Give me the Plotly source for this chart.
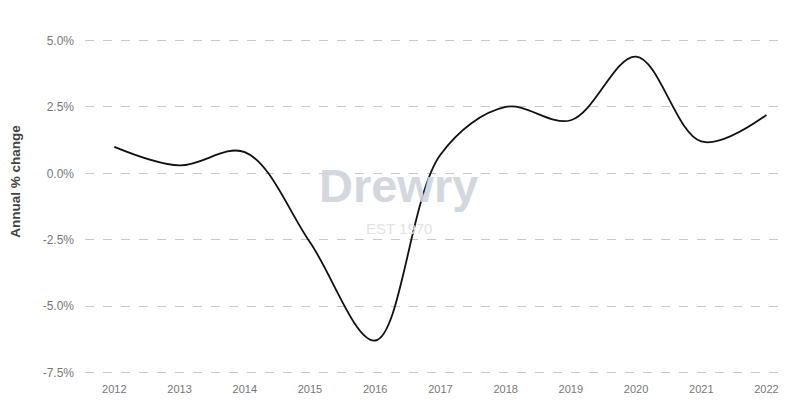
import plotly.graph_objects as go

years = [2012, 2013, 2014, 2015, 2016, 2017, 2018, 2019, 2020, 2021, 2022]
annual_change = [1.0, 0.3, 0.8, -2.6, -6.3, 0.7, 2.5, 2.0, 4.4, 1.2, 2.2]

y_tick_vals = [-7.5, -5.0, -2.5, 0.0, 2.5, 5.0]
y_tick_text = ["-7.5%", "-5.0%", "-2.5%", "0.0%", "2.5%", "5.0%"]

fig = go.Figure()
fig.add_trace(go.Scatter(
    x=years, y=annual_change, mode="lines",
    line=dict(color="#111111", width=1.8, shape="spline", smoothing=1.0),
    hoverinfo="skip", showlegend=False,
))

# watermark
fig.add_annotation(x=2016.36, y=-0.45, xref="x", yref="y", text="<b>Drewry</b>",
                   showarrow=False, opacity=0.9,
                   font=dict(family="Liberation Sans", size=47, color="#cfd3db"))
fig.add_annotation(x=2016.36, y=-2.08, xref="x", yref="y", text="EST 1970",
                   showarrow=False, font=dict(family="Liberation Sans", size=15, color="#e3e3e3"))
# y-axis title
fig.add_annotation(x=-0.112, y=0.576, xref="paper", yref="paper", text="<b>Annual % change</b>",
                   showarrow=False, textangle=-90,
                   font=dict(family="Liberation Sans", size=13.5, color="#444444"))

fig.update_layout(
    width=786, height=406,
    margin=dict(l=77, r=6, t=30, b=39),
    paper_bgcolor="white", plot_bgcolor="white",
    xaxis=dict(
        range=[2011.55, 2022.33],
        tickvals=years, ticktext=[str(y) for y in years],
        showgrid=False, zeroline=False, showline=False, ticks="",
        tickfont=dict(family="Liberation Sans", size=11, color="#777777"),
        ticklabelstandoff=6,
    ),
    yaxis=dict(
        range=[-7.6, 5.1],
        tickvals=y_tick_vals, ticktext=y_tick_text,
        showgrid=True, gridcolor="#c8c8c8", griddash="dash", gridwidth=1,
        zeroline=False, showline=False, ticks="",
        tickfont=dict(family="Liberation Sans", size=12, color="#777777"),
        ticklabelstandoff=10,
    ),
)

fig.write_html("out.html")
